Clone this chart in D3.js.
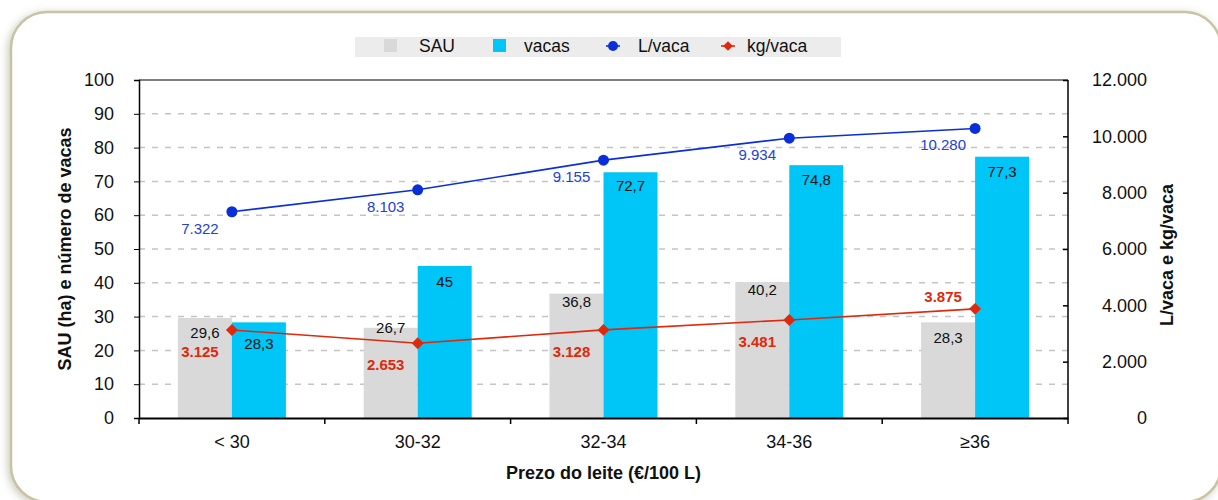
<!DOCTYPE html>
<html>
<head>
<meta charset="utf-8">
<script src="https://cdn.jsdelivr.net/npm/d3@7"></script>
<style>
  body { margin: 0; background: #fff; }
  svg { display: block; font-family: "Liberation Sans", Arial, sans-serif; }
</style>
</head>
<body>
<svg id="chart" width="1218" height="500"></svg>
<script>
// categories and values
var categories = ["< 30", "30-32", "32-34", "34-36", "\u226536"];
var sau = [29.6, 26.7, 36.8, 40.2, 28.3];
var vacas = [28.3, 45, 72.7, 74.8, 77.3];
var litrosVaca = [7322, 8103, 9155, 9934, 10280];
var kgVaca = [3125, 2653, 3128, 3481, 3875];
var leftTicks = [0, 10, 20, 30, 40, 50, 60, 70, 80, 90, 100];
var rightTicks = [0, 2000, 4000, 6000, 8000, 10000, 12000];

var svg = d3.select("#chart");
var margin = {top: 80, right: 150, bottom: 82, left: 139};
var width = 1218 - margin.left - margin.right;
var height = 500 - margin.top - margin.bottom;

var commaFmt = function(v){ return String(v).replace(".", ","); };
var dotFmt = function(v){ return v === 0 ? "0" : d3.format(",")(v).replace(/,/g, "."); };

// frame with shadow
var defs = svg.append("defs");
var filt = defs.append("filter").attr("id", "shadow")
    .attr("x", "-5%").attr("y", "-5%").attr("width", "110%").attr("height", "110%");
filt.append("feDropShadow").attr("dx", -2).attr("dy", 2).attr("stdDeviation", 4)
    .attr("flood-color", "#8a8a70").attr("flood-opacity", 0.45);

svg.append("rect")
    .attr("x", 11).attr("y", 12).attr("width", 1210).attr("height", 490)
    .attr("rx", 36).attr("ry", 36)
    .attr("fill", "#fff").attr("stroke", "#c8c3a2").attr("stroke-width", 2.5)
    .attr("filter", "url(#shadow)");

var g = svg.append("g").attr("transform", "translate(" + margin.left + "," + margin.top + ")");

var x0 = d3.scaleBand().domain(categories).range([0, width]).paddingInner(0).paddingOuter(0);
var x1 = d3.scaleBand().domain(["sau", "vacas"]).range([x0.bandwidth()/2 - 54, x0.bandwidth()/2 + 54]);
var yL = d3.scaleLinear().domain([0, 100]).range([height, 0]);
var yR = d3.scaleLinear().domain([0, 12000]).range([height, 0]);

// gridlines
g.append("g").selectAll("line")
  .data(leftTicks.filter(function(d){ return d > 0 && d < 100; }))
  .enter().append("line")
    .attr("x1", 0).attr("x2", width)
    .attr("y1", function(d){ return yL(d); }).attr("y2", function(d){ return yL(d); })
    .attr("stroke", "#c4c4c4").attr("stroke-width", 1.5).attr("stroke-dasharray", "6,7");

// bars
var groups = g.selectAll(".grp").data(categories).enter().append("g")
    .attr("transform", function(d){ return "translate(" + x0(d) + ",0)"; });

groups.append("rect")
    .attr("x", x1("sau")).attr("width", x1.bandwidth())
    .attr("y", function(d, i){ return yL(sau[i]); })
    .attr("height", function(d, i){ return height - yL(sau[i]); })
    .attr("fill", "#d9d9d9");
groups.append("rect")
    .attr("x", x1("vacas")).attr("width", x1.bandwidth())
    .attr("y", function(d, i){ return yL(vacas[i]); })
    .attr("height", function(d, i){ return height - yL(vacas[i]); })
    .attr("fill", "#00c5f7");

// axes frame
g.append("line").attr("x1", 0).attr("x2", width).attr("y1", 0).attr("y2", 0).attr("stroke", "#000").attr("stroke-width", 1.2);
g.append("line").attr("x1", width).attr("x2", width).attr("y1", 0).attr("y2", height).attr("stroke", "#000").attr("stroke-width", 1.5);

var leftAxis = d3.axisLeft(yL).tickValues(leftTicks).tickSize(5).tickPadding(20);
var la = g.append("g").call(leftAxis);
la.select(".domain").attr("stroke-width", 1.5);
la.selectAll("text").attr("font-size", 18).attr("fill", "#111");

var rightAxis = d3.axisRight(yR).tickValues(rightTicks).tickSize(-5).tickFormat(dotFmt);
var ra = g.append("g").attr("transform", "translate(" + width + ",0)").call(rightAxis);
ra.select(".domain").remove();
ra.selectAll("line").attr("stroke-width", 1.5);
ra.selectAll("text").attr("font-size", 18).attr("fill", "#111")
  .attr("text-anchor", "end").attr("x", 79);

var bottomAxis = d3.axisBottom(x0).tickSize(0).tickPadding(17);
var ba = g.append("g").attr("transform", "translate(0," + height + ")").call(bottomAxis);
ba.select(".domain").attr("stroke-width", 2.2);
ba.selectAll("text").attr("font-size", 18).attr("fill", "#111");
// boundary ticks between categories
ba.selectAll(".bound").data(d3.range(categories.length + 1)).enter().append("line")
    .attr("x1", function(i){ return i * x0.step(); }).attr("x2", function(i){ return i * x0.step(); })
    .attr("y1", 0).attr("y2", 6).attr("stroke", "#000").attr("stroke-width", 1.5);

// bar labels
var sauLabelDy = [15, 0, 8, 8, 16];
groups.append("text")
    .attr("x", x1("sau") + x1.bandwidth()/2)
    .attr("y", function(d, i){ return yL(sau[i]) + sauLabelDy[i] + 5; })
    .attr("text-anchor", "middle").attr("font-size", 15).attr("fill", "#111")
    .text(function(d, i){ return commaFmt(sau[i]); });
var vacasLabelDy = [22, 16, 14, 15, 15];
groups.append("text")
    .attr("x", x1("vacas") + x1.bandwidth()/2)
    .attr("y", function(d, i){ return yL(vacas[i]) + vacasLabelDy[i] + 5; })
    .attr("text-anchor", "middle").attr("font-size", 15).attr("fill", "#111")
    .text(function(d, i){ return commaFmt(vacas[i]); });

// lines
var cx = function(d, i){ return x0(categories[i]) + x0.bandwidth()/2; };

var blueLine = d3.line().x(cx).y(function(d){ return yR(d); });
g.append("path").datum(litrosVaca).attr("d", blueLine)
    .attr("fill", "none").attr("stroke", "#0a2fd8").attr("stroke-width", 1.6);
g.selectAll(".bdot").data(litrosVaca).enter().append("circle")
    .attr("cx", cx).attr("cy", function(d){ return yR(d); }).attr("r", 5.5)
    .attr("fill", "#0a2fd8");
g.selectAll(".blab").data(litrosVaca).enter().append("text")
    .attr("x", function(d, i){ return cx(d, i) - 32; })
    .attr("y", function(d){ return yR(d) + 22; })
    .attr("text-anchor", "middle").attr("font-size", 15).attr("fill", "#2042d8")
    .text(dotFmt);

var redLine = d3.line().x(cx).y(function(d){ return yR(d); });
g.append("path").datum(kgVaca).attr("d", redLine)
    .attr("fill", "none").attr("stroke", "#e0280c").attr("stroke-width", 1.6);
g.selectAll(".rdot").data(kgVaca).enter().append("path")
    .attr("transform", function(d, i){ return "translate(" + cx(d, i) + "," + yR(d) + ")"; })
    .attr("d", d3.symbol().type(d3.symbolDiamond2).size(90))
    .attr("fill", "#e0280c");
g.selectAll(".rlab").data(kgVaca).enter().append("text")
    .attr("x", function(d, i){ return cx(d, i) - 32; })
    .attr("y", function(d, i){ return i === kgVaca.length - 1 ? yR(d) - 7 : yR(d) + 27; })
    .attr("text-anchor", "middle").attr("font-size", 15).attr("font-weight", "bold").attr("fill", "#e0280c")
    .text(dotFmt);

// axis titles
svg.append("text")
    .attr("transform", "translate(71," + (margin.top + height/2) + ") rotate(-90)")
    .attr("text-anchor", "middle").attr("font-size", 18).attr("font-weight", "bold").attr("fill", "#111")
    .text("SAU (ha) e número de vacas");
svg.append("text")
    .attr("transform", "translate(1173," + (margin.top + height/2 + 6) + ") rotate(-90)")
    .attr("text-anchor", "middle").attr("font-size", 18).attr("font-weight", "bold").attr("fill", "#111")
    .text("L/vaca e kg/vaca");
svg.append("text")
    .attr("x", margin.left + width/2).attr("y", 479)
    .attr("text-anchor", "middle").attr("font-size", 18).attr("font-weight", "bold").attr("fill", "#111")
    .text("Prezo do leite (€/100 L)");

// legend
var lg = svg.append("g");
lg.append("rect").attr("x", 355).attr("y", 37).attr("width", 486).attr("height", 20).attr("fill", "#ececec");
lg.append("rect").attr("x", 384).attr("y", 39).attr("width", 13).attr("height", 13).attr("fill", "#d9d9d9");
lg.append("rect").attr("x", 493).attr("y", 39).attr("width", 13).attr("height", 13).attr("fill", "#00c5f7");
lg.append("line").attr("x1", 606).attr("x2", 620).attr("y1", 46).attr("y2", 46).attr("stroke", "#0a2fd8").attr("stroke-width", 1.6);
lg.append("circle").attr("cx", 613).attr("cy", 46).attr("r", 5).attr("fill", "#0a2fd8");
lg.append("line").attr("x1", 721).attr("x2", 735).attr("y1", 46).attr("y2", 46).attr("stroke", "#e0280c").attr("stroke-width", 1.6);
lg.append("path").attr("transform", "translate(728,46)")
    .attr("d", d3.symbol().type(d3.symbolDiamond2).size(60)).attr("fill", "#e0280c");
var legendNames = ["SAU", "vacas", "L/vaca", "kg/vaca"];
var legendX = [419, 524, 638, 747];
lg.selectAll(".lt").data(legendNames).enter().append("text")
    .attr("x", function(d, i){ return legendX[i]; }).attr("y", 52)
    .attr("font-size", 17.5).attr("fill", "#111").text(function(d){ return d; });
</script>
</body>
</html>
